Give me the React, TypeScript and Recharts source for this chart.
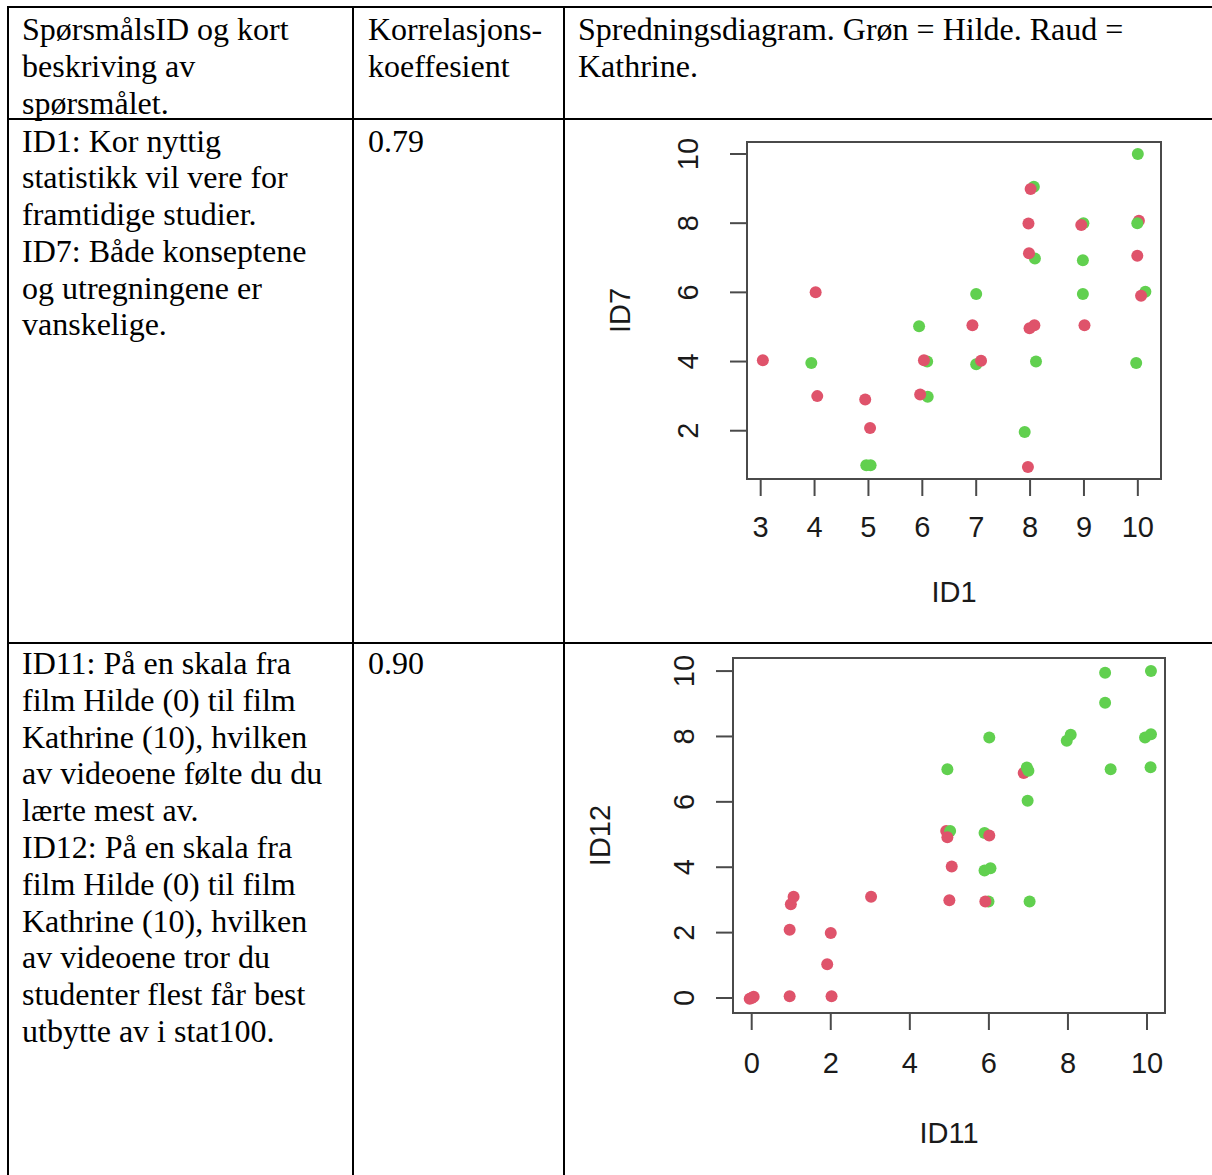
import React from 'react';
import { ScatterChart, Scatter, XAxis, YAxis, ReferenceArea, Label } from 'recharts';

// ---------- table text ----------
const headerCol1 = ['SpørsmålsID og kort', 'beskriving av', 'spørsmålet.'];
const headerCol2 = ['Korrelasjons-', 'koeffesient'];
const headerCol3 = ['Spredningsdiagram. Grøn = Hilde. Raud =', 'Kathrine.'];
const row1Col1 = ['ID1: Kor nyttig', 'statistikk vil vere for', 'framtidige studier.', 'ID7: Både konseptene', 'og utregningene er', 'vanskelige.'];
const row1Corr = ['0.79'];
const row2Col1 = ['ID11: På en skala fra', 'film Hilde (0) til film', 'Kathrine (10), hvilken', 'av videoene følte du du', 'lærte mest av.', 'ID12: På en skala fra', 'film Hilde (0) til film', 'Kathrine (10), hvilken', 'av videoene tror du', 'studenter flest får best', 'utbytte av i stat100.'];
const row2Corr = ['0.90'];

// ---------- plot 1: ID1 (x) vs ID7 (y) ----------
const plot1XTitle = 'ID1';
const plot1YTitle = 'ID7';
const plot1XTicks = [3, 4, 5, 6, 7, 8, 9, 10];
const plot1YTicks = [2, 4, 6, 8, 10];
const plot1XDomain = [2.746, 10.43];
const plot1YDomain = [0.604, 10.347];
const plot1GreenUnder = [
  { x: 3.94, y: 3.96 }, { x: 4.96, y: 1.0 }, { x: 5.04, y: 1.0 }, { x: 5.94, y: 5.02 },
  { x: 6.1, y: 2.98 }, { x: 6.09, y: 4.0 }, { x: 7.0, y: 5.95 }, { x: 7.0, y: 3.92 },
  { x: 7.9, y: 1.96 }, { x: 8.11, y: 4.0 }, { x: 8.09, y: 6.98 }, { x: 8.07, y: 9.05 },
  { x: 8.98, y: 6.93 }, { x: 8.98, y: 5.95 }, { x: 8.99, y: 8.0 }, { x: 10.0, y: 10.0 },
  { x: 9.97, y: 3.96 }, { x: 10.14, y: 6.02 },
];
const plot1Red = [
  { x: 3.04, y: 4.04 }, { x: 4.02, y: 6.0 }, { x: 4.05, y: 3.0 }, { x: 4.94, y: 2.9 },
  { x: 5.03, y: 2.08 }, { x: 5.96, y: 3.05 }, { x: 6.03, y: 4.04 }, { x: 6.93, y: 5.05 },
  { x: 7.09, y: 4.02 }, { x: 8.01, y: 8.99 }, { x: 7.97, y: 7.99 }, { x: 7.98, y: 7.13 },
  { x: 8.08, y: 5.05 }, { x: 7.99, y: 4.96 }, { x: 7.96, y: 0.95 }, { x: 8.95, y: 7.95 },
  { x: 9.01, y: 5.05 }, { x: 9.99, y: 7.06 }, { x: 10.06, y: 5.9 }, { x: 10.02, y: 8.07 },
];
const plot1GreenOver = [{ x: 9.99, y: 8.0 }];

// ---------- plot 2: ID11 (x) vs ID12 (y) ----------
const plot2XTitle = 'ID11';
const plot2YTitle = 'ID12';
const plot2XTicks = [0, 2, 4, 6, 8, 10];
const plot2YTicks = [0, 2, 4, 6, 8, 10];
const plot2XDomain = [-0.473, 10.455];
const plot2YDomain = [-0.459, 10.4];
const plot2GreenUnder = [
  { x: 4.95, y: 7.0 }, { x: 5.89, y: 5.05 }, { x: 5.89, y: 3.9 }, { x: 6.04, y: 3.97 },
  { x: 6.01, y: 7.97 }, { x: 5.99, y: 2.95 }, { x: 6.98, y: 6.03 }, { x: 7.03, y: 2.95 },
  { x: 7.97, y: 7.87 }, { x: 8.07, y: 8.05 }, { x: 8.94, y: 9.95 }, { x: 8.94, y: 9.03 },
  { x: 9.08, y: 7.0 }, { x: 10.1, y: 10.0 }, { x: 9.95, y: 7.97 }, { x: 10.1, y: 8.07 },
  { x: 10.09, y: 7.06 },
];
const plot2Red = [
  { x: -0.05, y: -0.02 }, { x: 0.05, y: 0.04 }, { x: 0.0, y: 0.0 }, { x: 0.96, y: 0.05 },
  { x: 0.96, y: 2.09 }, { x: 0.99, y: 2.87 }, { x: 1.06, y: 3.1 }, { x: 2.0, y: 1.99 },
  { x: 1.91, y: 1.03 }, { x: 2.02, y: 0.05 }, { x: 3.02, y: 3.1 }, { x: 4.92, y: 5.11 },
  { x: 5.06, y: 4.02 }, { x: 5.0, y: 2.99 }, { x: 5.91, y: 2.95 }, { x: 6.01, y: 4.97 },
  { x: 6.88, y: 6.88 },
];
const plot2GreenOver = [{ x: 5.02, y: 5.11 }, { x: 6.96, y: 7.05 }, { x: 7.0, y: 6.95 }];
const plot2RedOver = [{ x: 4.95, y: 4.92 }];

const RED = '#DF536B';
const GREEN = '#61D04F';
const AXIS_COLOR = '#4a4a4a';
const LABEL_COLOR = '#1a1a1a';
const SANS = '"Liberation Sans", Arial, sans-serif';
const SERIF = '"Liberation Serif", "Times New Roman", serif';
const TICK = 17;
const AXIS_FONT = 29;

const dot = (color: string) => (props: any) => (
  <circle cx={props.cx} cy={props.cy} r={6} fill={color} />
);

const xTick = (offset: number) => (props: any) => (
  <text
    x={props.x}
    y={props.y - TICK + offset}
    textAnchor="middle"
    dominantBaseline="central"
    fontFamily={SANS}
    fontSize={AXIS_FONT}
    fill={LABEL_COLOR}
  >
    {props.payload.value}
  </text>
);

const yTick = (offset: number) => (props: any) => {
  const cx = props.x + TICK - offset;
  const cy = props.y;
  return (
    <text
      x={cx}
      y={cy}
      transform={`rotate(-90 ${cx} ${cy})`}
      textAnchor="middle"
      dominantBaseline="central"
      fontFamily={SANS}
      fontSize={AXIS_FONT}
      fill={LABEL_COLOR}
    >
      {props.payload.value}
    </text>
  );
};

const xTitle = (text: string, offset: number) => (props: any) => {
  const vb = props.viewBox || {};
  return (
    <text
      x={vb.x + vb.width / 2}
      y={vb.y + offset}
      textAnchor="middle"
      dominantBaseline="central"
      fontFamily={SANS}
      fontSize={AXIS_FONT}
      fill={LABEL_COLOR}
    >
      {text}
    </text>
  );
};

const yTitle = (text: string, offset: number) => (props: any) => {
  const vb = props.viewBox || {};
  const cx = vb.x + vb.width - offset;
  const cy = vb.y + vb.height / 2;
  return (
    <text
      x={cx}
      y={cy}
      transform={`rotate(-90 ${cx} ${cy})`}
      textAnchor="middle"
      dominantBaseline="central"
      fontFamily={SANS}
      fontSize={AXIS_FONT}
      fill={LABEL_COLOR}
    >
      {text}
    </text>
  );
};

type PlotProps = {
  left: number; top: number; width: number; height: number;
  margin: { top: number; right: number; left: number; bottom: number };
  yAxisWidth: number; xAxisHeight: number;
  xDomain: number[]; yDomain: number[]; xTicks: number[]; yTicks: number[];
  xTitleText: string; yTitleText: string;
  xLabelOffset: number; xTitleOffset: number; yLabelOffset: number; yTitleOffset: number;
  layers: { data: { x: number; y: number }[]; color: string }[];
};

function Plot(p: PlotProps) {
  return (
    <div style={{ position: 'absolute', left: p.left, top: p.top, width: p.width, height: p.height }}>
      <ScatterChart width={p.width} height={p.height} margin={p.margin}>
        <XAxis
          type="number"
          dataKey="x"
          domain={p.xDomain}
          ticks={p.xTicks}
          allowDataOverflow
          height={p.xAxisHeight}
          axisLine={false}
          tickLine={{ stroke: AXIS_COLOR, strokeWidth: 2 }}
          tickSize={TICK}
          tickMargin={0}
          tick={xTick(p.xLabelOffset)}
          interval={0}
        >
          <Label content={xTitle(p.xTitleText, p.xTitleOffset)} />
        </XAxis>
        <YAxis
          type="number"
          dataKey="y"
          domain={p.yDomain}
          ticks={p.yTicks}
          allowDataOverflow
          width={p.yAxisWidth}
          axisLine={false}
          tickLine={{ stroke: AXIS_COLOR, strokeWidth: 2 }}
          tickSize={TICK}
          tickMargin={0}
          tick={yTick(p.yLabelOffset)}
          interval={0}
        >
          <Label content={yTitle(p.yTitleText, p.yTitleOffset)} />
        </YAxis>
        <ReferenceArea
          x1={p.xDomain[0]}
          x2={p.xDomain[1]}
          y1={p.yDomain[0]}
          y2={p.yDomain[1]}
          ifOverflow="visible"
          fill="none"
          fillOpacity={0}
          stroke={AXIS_COLOR}
          strokeWidth={2}
        />
        {p.layers.map((l, i) => (
          <Scatter key={i} data={l.data} isAnimationActive={false} shape={dot(l.color)} />
        ))}
      </ScatterChart>
    </div>
  );
}

const LINE_H = 36.8;
const FONT_SIZE = 32;

function TextBlock({ lines, left, top }: { lines: string[]; left: number; top: number }) {
  return (
    <div style={{ position: 'absolute', left, top, fontFamily: SERIF, fontSize: FONT_SIZE, lineHeight: `${LINE_H}px`, color: '#000', whiteSpace: 'nowrap' }}>
      {lines.map((t, i) => (
        <div key={i}>{t}</div>
      ))}
    </div>
  );
}

const hLine = (top: number) => (
  <div style={{ position: 'absolute', left: 7, top, width: 1205, height: 2, background: '#000' }} />
);
const vLine = (left: number) => (
  <div style={{ position: 'absolute', left, top: 6, width: 2, height: 1169, background: '#000' }} />
);

export default function App() {
  return (
    <div style={{ position: 'absolute', left: 0, top: 0, width: 1212, height: 1175, background: '#fff', overflow: 'hidden' }}>
      {hLine(6)}
      {hLine(118)}
      {hLine(642)}
      {vLine(7)}
      {vLine(352)}
      {vLine(563)}

      <TextBlock lines={headerCol1} left={22} top={11} />
      <TextBlock lines={headerCol2} left={368} top={11} />
      <TextBlock lines={headerCol3} left={578} top={11} />

      <TextBlock lines={row1Col1} left={22} top={122.5} />
      <TextBlock lines={row1Corr} left={368} top={122.5} />

      <TextBlock lines={row2Col1} left={22} top={645} />
      <TextBlock lines={row2Corr} left={368} top={645} />

      <Plot
        left={575} top={124} width={612} height={500}
        margin={{ top: 18, right: 26, left: 0, bottom: 0 }}
        yAxisWidth={172} xAxisHeight={145}
        xDomain={plot1XDomain} yDomain={plot1YDomain}
        xTicks={plot1XTicks} yTicks={plot1YTicks}
        xTitleText={plot1XTitle} yTitleText={plot1YTitle}
        xLabelOffset={48} xTitleOffset={113} yLabelOffset={59} yTitleOffset={127}
        layers={[
          { data: plot1GreenUnder, color: GREEN },
          { data: plot1Red, color: RED },
          { data: plot1GreenOver, color: GREEN },
        ]}
      />
      <Plot
        left={575} top={640} width={612} height={535}
        margin={{ top: 18, right: 22, left: 0, bottom: 0 }}
        yAxisWidth={158} xAxisHeight={162}
        xDomain={plot2XDomain} yDomain={plot2YDomain}
        xTicks={plot2XTicks} yTicks={plot2YTicks}
        xTitleText={plot2XTitle} yTitleText={plot2YTitle}
        xLabelOffset={50} xTitleOffset={120} yLabelOffset={49} yTitleOffset={133}
        layers={[
          { data: plot2GreenUnder, color: GREEN },
          { data: plot2Red, color: RED },
          { data: plot2GreenOver, color: GREEN },
          { data: plot2RedOver, color: RED },
        ]}
      />
    </div>
  );
}
